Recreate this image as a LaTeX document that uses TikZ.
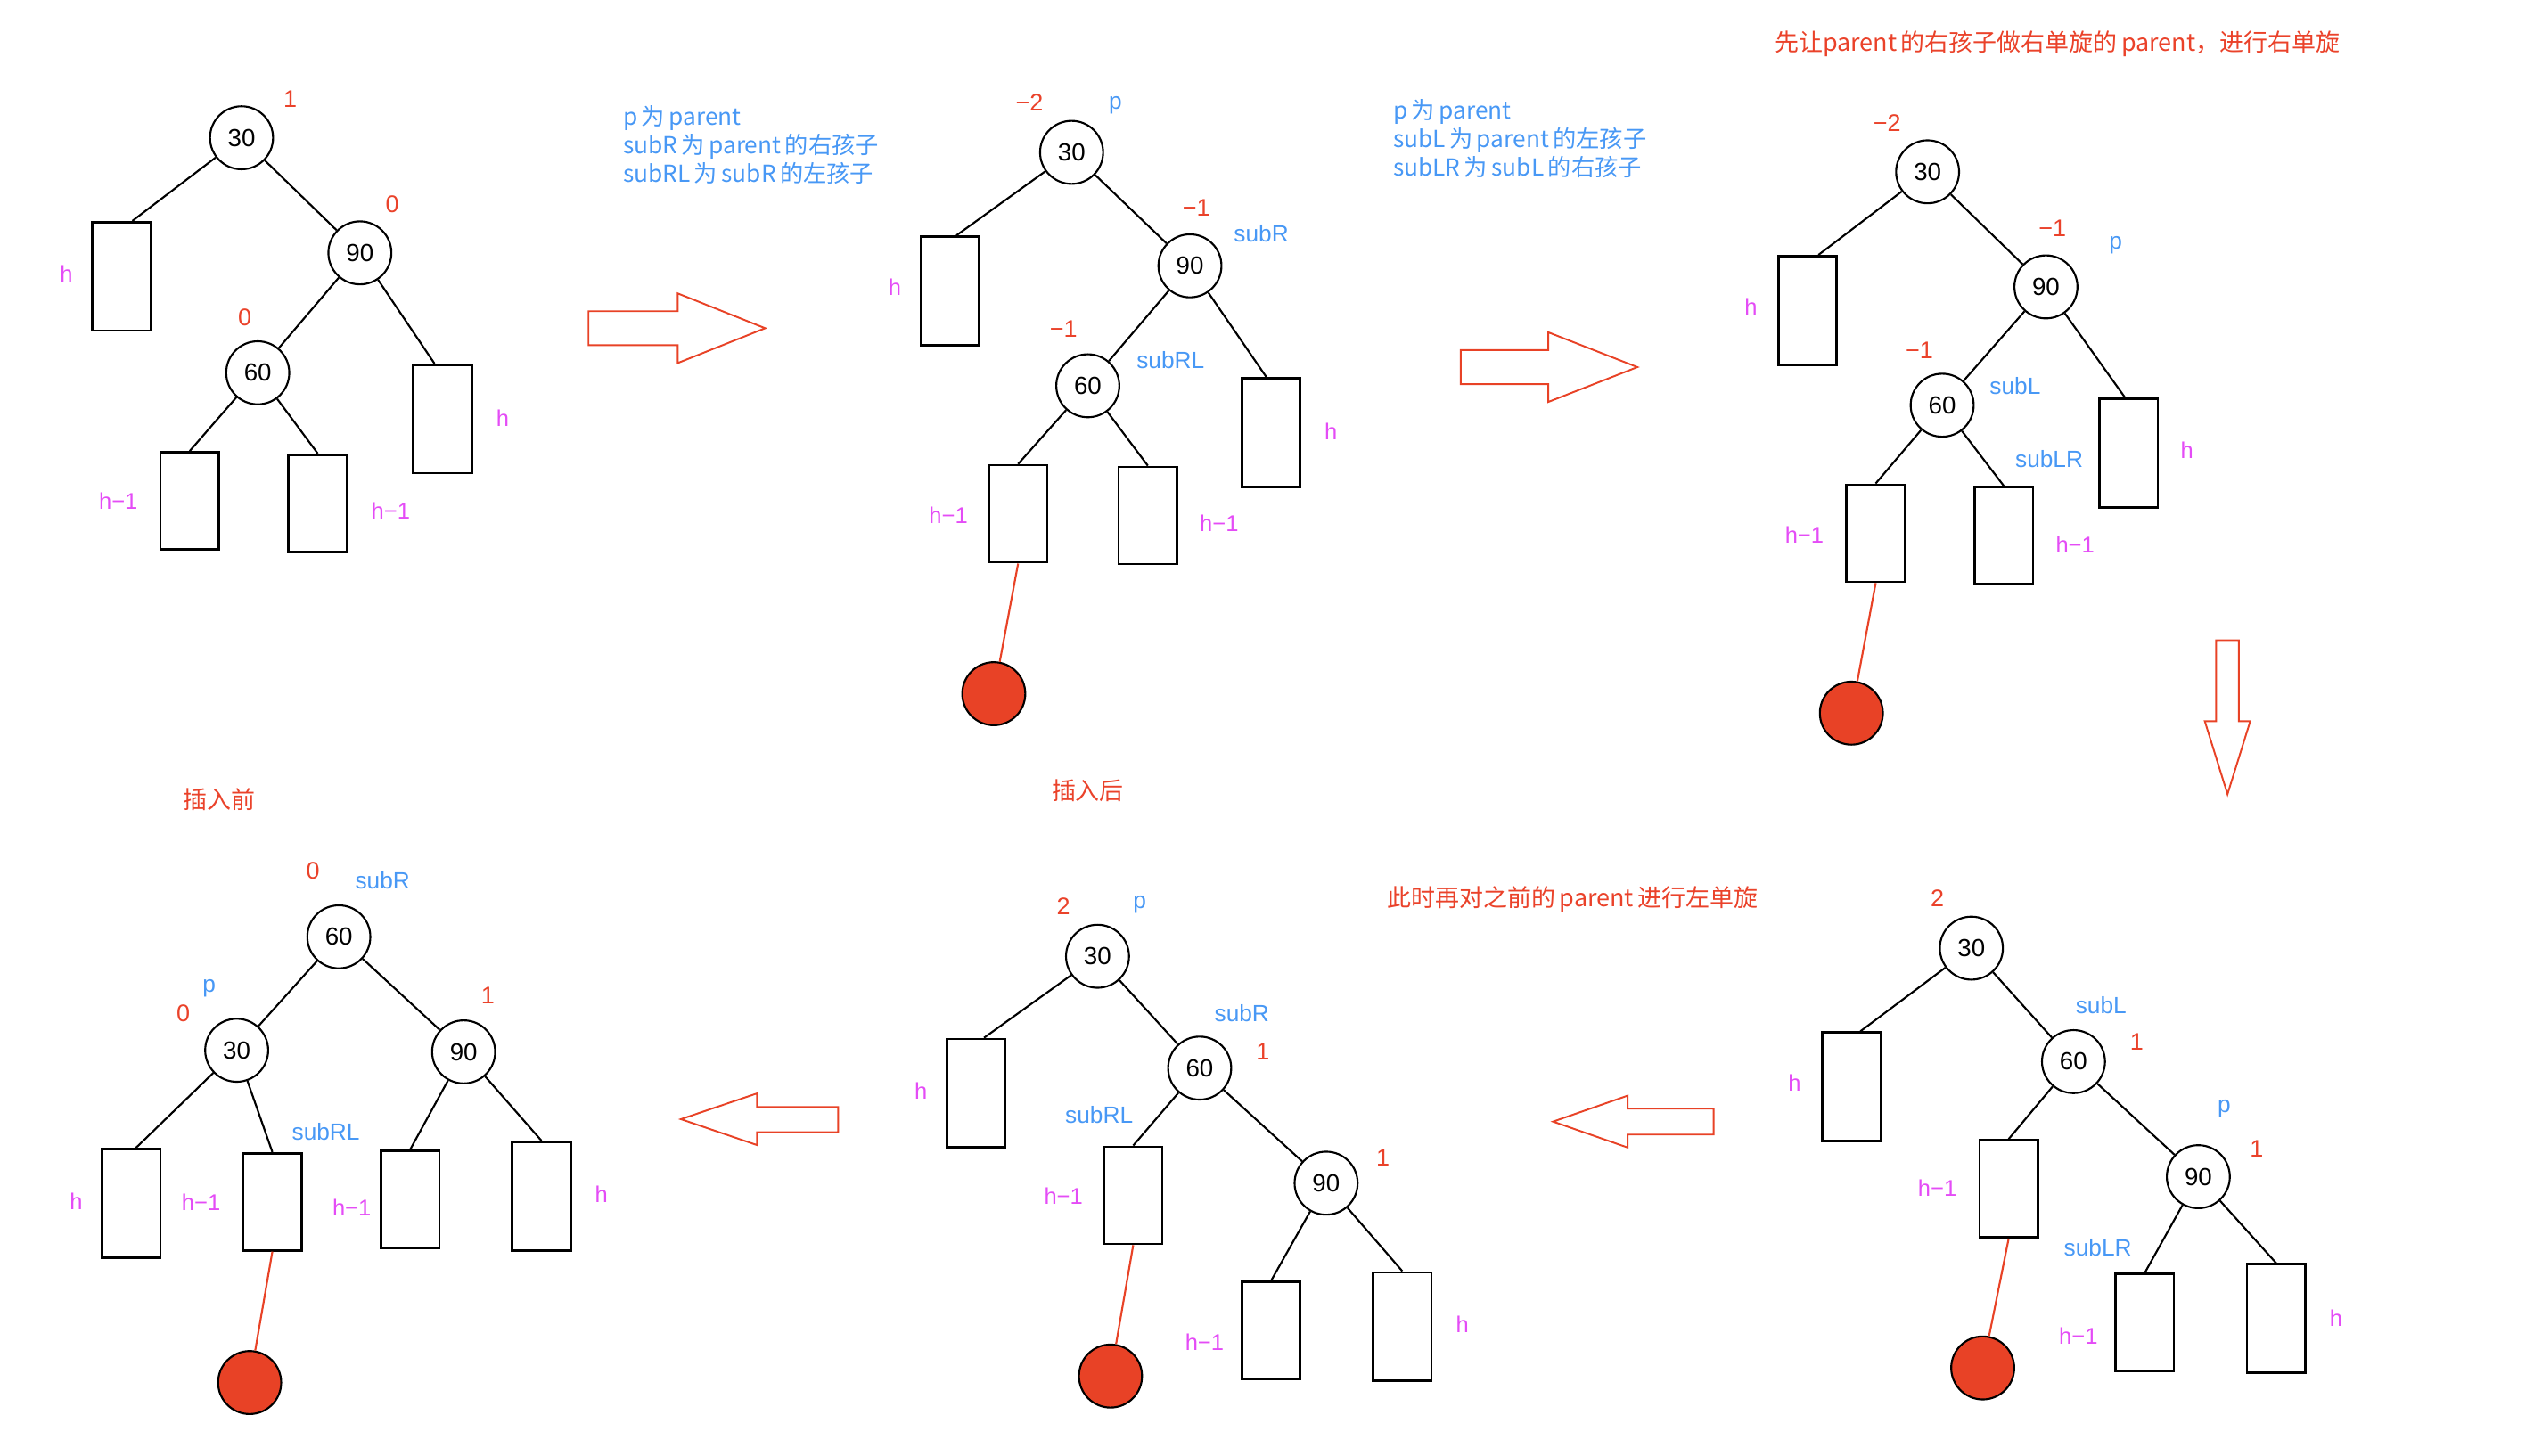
\documentclass[tikz,border=0pt]{standalone}
\usepackage{fontspec}
\setmainfont{Liberation Sans}
\newfontfamily\cjk{Noto Sans CJK SC}
\usepackage{tikz}
\definecolor{balred}{RGB}{234,66,42}
\definecolor{ptrblue}{RGB}{72,152,245}
\definecolor{hmag}{RGB}{228,76,246}
\definecolor{newred}{RGB}{232,66,38}

\begin{document}
\begin{tikzpicture}[x=0.018cm,y=-0.018cm,
  keynode/.style={draw,circle,minimum size=0.70cm,inner sep=0pt,line width=0.6pt,font=\fontsize{7.8}{9}\selectfont},
  newkey/.style={draw,circle,fill=newred,minimum size=0.70cm,inner sep=0pt,line width=0.6pt},
  subtree/.style={draw,rectangle,minimum width=0.648cm,minimum height=1.206cm,inner sep=0pt,line width=0.75pt},
  subtreeshort/.style={subtree,minimum height=1.08cm},
  bal/.style={text=balred,inner sep=0pt,font=\fontsize{7.6}{9}\selectfont},
  ptr/.style={text=ptrblue,inner sep=0pt,font=\fontsize{7.4}{9}\selectfont},
  hgt/.style={text=hmag,inner sep=0pt,font=\fontsize{7.2}{9}\selectfont},
  notetext/.style={text=ptrblue,align=left,anchor=north west,inner sep=0pt,font=\cjk\fontsize{7.4}{9}\selectfont},
  remark/.style={text=balred,inner sep=0pt,font=\cjk\fontsize{7.6}{9}\selectfont},
  treeedge/.style={line width=0.6pt},
  newlink/.style={draw=newred,line width=0.6pt},
  blockarrow/.style={draw=newred,line width=0.55pt}]
  \useasboundingbox (0,0) rectangle (1568,898);

  % before insertion
  \node[keynode] (a30) at (149,85) {30};
  \node[keynode] (a90) at (222,156) {90};
  \node[keynode] (a60) at (159,230) {60};
  \node[subtree] (aL) at (75,170.5) {};
  \node[subtree] (aR) at (273,258.5) {};
  \node[subtreeshort] (aLL) at (117,309) {};
  \node[subtreeshort] (aLR) at (196,310.5) {};
  \draw[treeedge] (a30) -- ([xshift=0.12cm]aL.north);
  \draw[treeedge] (a30) -- (a90);
  \draw[treeedge] (a90) -- (a60);
  \draw[treeedge] (a90) -- ([xshift=-0.09cm]aR.north);
  \draw[treeedge] (a60) -- (aLL.north);
  \draw[treeedge] (a60) -- (aLR.north);
  \node[bal] (a30bf) at (179,61) {1};
  \node[bal] (a90bf) at (242,126) {0};
  \node[bal] (a60bf) at (151,196) {0};
  \node[hgt] (aLh) at (41,169) {h};
  \node[hgt] (aRh) at (310,258) {h};
  \node[hgt] (aLLh) at (73,309) {h−1};
  \node[hgt] (aLRh) at (241,315) {h−1};
  \node[remark] (before) at (135,493) {插入前};

  \draw[blockarrow] (363,192) -- (418,192) -- (418,181) -- (472,202.5) -- (418,224) -- (418,213) -- (363,213) -- cycle;
  \node[notetext] (note1) at (384,65) {p\,为\,parent\\subR\,为\,parent\,的右孩子\\subRL\,为\,subR\,的左孩子};

  % after insertion
  \node[keynode] (b30) at (661,94) {30};
  \node[keynode] (b90) at (734,164) {90};
  \node[keynode] (b60) at (671,238) {60};
  \node[subtree] (bL) at (586,179.5) {};
  \node[subtree] (bR) at (784,267) {};
  \node[subtreeshort] (bLL) at (628,317) {};
  \node[subtreeshort] (bLR) at (708,318) {};
  \node[newkey] (bnew) at (613,428) {};
  \draw[treeedge] (b30) -- ([xshift=0.07cm]bL.north);
  \draw[treeedge] (b30) -- (b90);
  \draw[treeedge] (b90) -- (b60);
  \draw[treeedge] (b90) -- ([xshift=-0.05cm]bR.north);
  \draw[treeedge] (b60) -- (bLL.north);
  \draw[treeedge] (b60) -- (bLR.north);
  \draw[newlink] (bLL.south) -- (bnew);
  \node[bal] (b30bf) at (635,63) {−2};
  \node[bal] (b90bf) at (738,128) {−1};
  \node[bal] (b60bf) at (656,203) {−1};
  \node[ptr] (b30p) at (688,65) {p};
  \node[ptr] (b90p) at (778,144) {subR};
  \node[ptr] (b60p) at (722,222) {subRL};
  \node[hgt] (bLh) at (552,177) {h};
  \node[hgt] (bRh) at (821,266) {h};
  \node[hgt] (bLLh) at (585,318) {h−1};
  \node[hgt] (bLRh) at (752,323) {h−1};
  \node[remark] (after) at (671,488) {插入后};

  \draw[blockarrow] (901,216) -- (955,216) -- (955,205) -- (1010,226.5) -- (955,248) -- (955,237) -- (901,237) -- cycle;
  \node[notetext] (note2) at (859,61) {p\,为\,parent\\subL\,为\,parent\,的左孩子\\subLR\,为\,subL\,的右孩子};

  % right rotation step
  \node[remark] (step1) at (1269,27) {先让parent\,的右孩子做右单旋的\,parent，进行右单旋};
  \node[keynode] (c30) at (1189,106) {30};
  \node[keynode] (c90) at (1262,177) {90};
  \node[keynode] (c60) at (1198,250) {60};
  \node[subtree] (cL) at (1115,191.5) {};
  \node[subtree] (cR) at (1313,279.5) {};
  \node[subtreeshort] (cLL) at (1157,329) {};
  \node[subtreeshort] (cLR) at (1236,330.5) {};
  \node[newkey] (cnew) at (1142,440) {};
  \draw[treeedge] (c30) -- ([xshift=0.12cm]cL.north);
  \draw[treeedge] (c30) -- (c90);
  \draw[treeedge] (c90) -- (c60);
  \draw[treeedge] (c90) -- ([xshift=-0.04cm]cR.north);
  \draw[treeedge] (c60) -- (cLL.north);
  \draw[treeedge] (c60) -- (cLR.north);
  \draw[newlink] (cLL.south) -- (cnew);
  \node[bal] (c30bf) at (1164,76) {−2};
  \node[bal] (c90bf) at (1266,141) {−1};
  \node[bal] (c60bf) at (1184,216) {−1};
  \node[ptr] (c90p) at (1305,151) {p};
  \node[ptr] (c60p) at (1243,238) {subL};
  \node[ptr] (cLRp) at (1264,283) {subLR};
  \node[hgt] (cLh) at (1080,189) {h};
  \node[hgt] (cRh) at (1349,278) {h};
  \node[hgt] (cLLh) at (1113,330) {h−1};
  \node[hgt] (cLRh) at (1280,336) {h−1};

  \draw[blockarrow] (1367,395) -- (1381,395) -- (1381,445) -- (1388,445) -- (1374,490) -- (1360,445) -- (1367,445) -- cycle;

  % after the right rotation
  \node[keynode] (f30) at (1216,585) {30};
  \node[keynode] (f60) at (1279,655) {60};
  \node[keynode] (f90) at (1356,726) {90};
  \node[subtree] (fL) at (1142,670.5) {};
  \node[subtreeshort] (fM) at (1239,733.5) {};
  \node[subtreeshort] (fRL) at (1323,816) {};
  \node[subtree] (fRR) at (1404,813.5) {};
  \node[newkey] (fnew) at (1223,844) {};
  \draw[treeedge] (f30) -- ([xshift=0.1cm]fL.north);
  \draw[treeedge] (f30) -- (f60);
  \draw[treeedge] (f60) -- (fM.north);
  \draw[treeedge] (f60) -- (f90);
  \draw[treeedge] (f90) -- (fRL.north);
  \draw[treeedge] (f90) -- (fRR.north);
  \draw[newlink] (fM.south) -- (fnew);
  \node[bal] (f30bf) at (1195,554) {2};
  \node[bal] (f60bf) at (1318,643) {1};
  \node[bal] (f90bf) at (1392,709) {1};
  \node[ptr] (f60p) at (1296,620) {subL};
  \node[ptr] (f90p) at (1372,684) {p};
  \node[ptr] (fRLp) at (1294,770) {subLR};
  \node[hgt] (fLh) at (1107,668) {h};
  \node[hgt] (fMh) at (1195,733) {h−1};
  \node[hgt] (fRLh) at (1282,824) {h−1};
  \node[hgt] (fRRh) at (1441,813) {h};

  \draw[blockarrow] (1057,684) -- (1004,684) -- (1004,676) -- (958,692) -- (1004,708) -- (1004,700) -- (1057,700) -- cycle;
  \node[remark] (step2) at (970,555) {此时再对之前的\,parent\,进行左单旋};

  % left rotation step
  \node[keynode] (e30) at (677,590) {30};
  \node[keynode] (e60) at (740,659) {60};
  \node[keynode] (e90) at (818,730) {90};
  \node[subtree] (eL) at (602,674.5) {};
  \node[subtreeshort] (eM) at (699,737.5) {};
  \node[subtreeshort] (eRL) at (784,821) {};
  \node[subtree] (eRR) at (865,818.5) {};
  \node[newkey] (enew) at (685,849) {};
  \draw[treeedge] (e30) -- ([xshift=0.09cm]eL.north);
  \draw[treeedge] (e30) -- (e60);
  \draw[treeedge] (e60) -- (eM.north);
  \draw[treeedge] (e60) -- (e90);
  \draw[treeedge] (e90) -- (eRL.north);
  \draw[treeedge] (e90) -- (eRR.north);
  \draw[newlink] (eM.south) -- (enew);
  \node[bal] (e30bf) at (656,559) {2};
  \node[bal] (e60bf) at (779,649) {1};
  \node[bal] (e90bf) at (853,714) {1};
  \node[ptr] (e30p) at (703,558) {p};
  \node[ptr] (e60p) at (766,625) {subR};
  \node[ptr] (eMp) at (678,688) {subRL};
  \node[hgt] (eLh) at (568,673) {h};
  \node[hgt] (eMh) at (656,738) {h−1};
  \node[hgt] (eRLh) at (743,828) {h−1};
  \node[hgt] (eRRh) at (902,817) {h};

  \draw[blockarrow] (517,683) -- (467,683) -- (467,674.6) -- (420,690.5) -- (467,706.5) -- (467,698.6) -- (517,698.6) -- cycle;

  % balanced result
  \node[keynode] (d60) at (209,578) {60};
  \node[keynode] (d30) at (146,648) {30};
  \node[keynode] (d90) at (286,649) {90};
  \node[subtree] (dA) at (81,742.5) {};
  \node[subtreeshort] (dB) at (168,741.5) {};
  \node[subtreeshort] (dC) at (253,740) {};
  \node[subtree] (dD) at (334,738) {};
  \node[newkey] (dnew) at (154,853) {};
  \draw[treeedge] (d60) -- (d30);
  \draw[treeedge] (d60) -- (d90);
  \draw[treeedge] (d30) -- ([xshift=0.05cm]dA.north);
  \draw[treeedge] (d30) -- (dB.north);
  \draw[treeedge] (d90) -- (dC.north);
  \draw[treeedge] (d90) -- (dD.north);
  \draw[newlink] (dB.south) -- (dnew);
  \node[bal] (d60bf) at (193,537) {0};
  \node[bal] (d30bf) at (113,625) {0};
  \node[bal] (d90bf) at (301,614) {1};
  \node[ptr] (d60p) at (236,543) {subR};
  \node[ptr] (d30p) at (129,610) {p};
  \node[ptr] (dBp) at (201,698) {subRL};
  \node[hgt] (dAh) at (47,741) {h};
  \node[hgt] (dBh) at (124,742) {h−1};
  \node[hgt] (dCh) at (217,745) {h−1};
  \node[hgt] (dDh) at (371,737) {h};
\end{tikzpicture}
\end{document}
